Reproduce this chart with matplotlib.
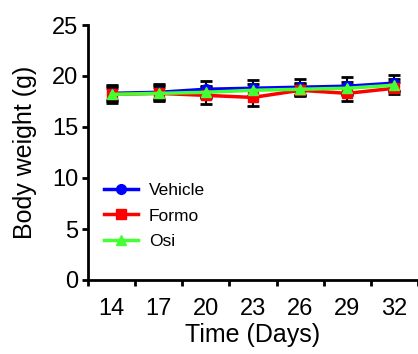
import matplotlib
matplotlib.use("Agg")
import matplotlib.pyplot as plt
import numpy as np

days = [14, 17, 20, 23, 26, 29, 32]
vehicle = [18.3, 18.4, 18.7, 18.8, 18.9, 19.0, 19.3]
vehicle_err = [0.8, 0.8, 0.8, 0.8, 0.8, 0.9, 0.8]
formo = [18.2, 18.3, 18.1, 17.9, 18.6, 18.3, 18.8]
formo_err = [0.8, 0.8, 0.8, 0.8, 0.6, 0.8, 0.6]
osi = [18.2, 18.3, 18.4, 18.6, 18.7, 18.8, 19.1]
osi_err = [0.6, 0.6, 0.6, 0.6, 0.6, 0.6, 0.6]
ylabel = "Body weight (g)"
xlabel = "Time (Days)"

plt.rcParams['font.family'] = ['Liberation Sans', 'DejaVu Sans']

fig = plt.figure(figsize=(4.18, 3.54), dpi=100)
ax = fig.add_axes([88/418, 74/354, 330/418, 255/354])

x = np.arange(len(days))
series = [
    ("Vehicle", vehicle, vehicle_err, "#0000FF", "o", 7),
    ("Formo", formo, formo_err, "#FF0000", "s", 6.5),
    ("Osi", osi, osi_err, "#44FF33", "^", 7.5),
]
for name, vals, err, col, mk, ms in series:
    ax.errorbar(x, vals, yerr=err, fmt='none', ecolor='black', elinewidth=1.5,
                capsize=4, capthick=2, zorder=2)
for name, vals, err, col, mk, ms in series:
    ax.plot(x, vals, color=col, marker=mk, markersize=ms, linewidth=2.5,
            label=name, zorder=3)

ax.set_xlim(-0.5, len(days) - 0.5)
ax.set_ylim(0, 25)
ax.set_yticks([0, 5, 10, 15, 20, 25])
ax.set_xticks(x)
ax.set_xticklabels([str(d) for d in days])
ax.set_xticks(np.arange(-0.5, len(days)), minor=True)
ax.tick_params(axis='x', which='major', length=0, labelsize=17, pad=13)
ax.tick_params(axis='x', which='minor', length=4, width=2, direction='out')
ax.tick_params(axis='y', length=4, width=2, labelsize=17, pad=3)

for s in ['top', 'right']:
    ax.spines[s].set_visible(False)
for s in ['left', 'bottom']:
    ax.spines[s].set_linewidth(2)

ax.set_ylabel(ylabel, fontsize=18, labelpad=11)
ax.set_xlabel(xlabel, fontsize=18, labelpad=2)

leg = ax.legend(loc='lower left', bbox_to_anchor=(0.0, 0.06), frameon=False,
                fontsize=12.5, handlelength=2.0, labelspacing=0.6,
                handletextpad=0.6)

fig.savefig("out.png", dpi=100)
